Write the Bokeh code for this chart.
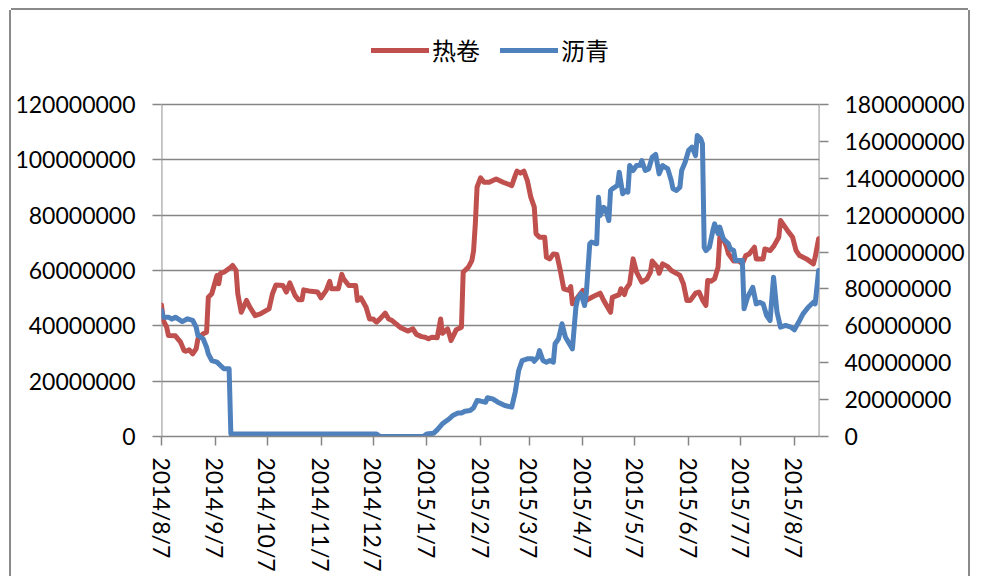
import pandas as pd
from bokeh.plotting import figure
from bokeh.models import (Range1d, LinearAxis, FixedTicker, NumeralTickFormatter,
                          Legend, LegendItem, ColumnDataSource)
from bokeh.embed import file_html
from bokeh.resources import INLINE

START = "2014-08-07"

# 热卷 (left axis) : day offset from START, value in millions
hr_day = [0, 1, 3, 4, 8, 11, 13, 14, 16, 18, 20, 21, 22, 24, 26, 27, 29, 32, 33, 34, 36, 40, 41, 43, 44, 46, 49, 51, 54, 57,
          62, 64, 66, 70, 72, 74, 77, 79, 81, 82, 85, 90, 92, 95, 97, 98, 102, 104, 105, 108, 112, 113, 115, 118, 120, 122, 124, 126, 129, 131,
          133, 138, 142, 145, 147, 150, 152, 154, 156, 159, 161, 162, 165, 166, 167, 169, 170, 173, 174, 175, 177, 179, 180, 181, 182, 184, 186, 189, 193, 197,
          202, 204, 205, 207, 209, 211, 213, 215, 216, 218, 221, 222, 224, 226, 228, 230, 232, 235, 236, 237, 240, 243, 245, 249, 253, 255, 259, 260, 264, 265,
          267, 268, 270, 272, 274, 277, 280, 282, 283, 286, 287, 289, 292, 294, 298, 299, 301, 303, 305, 308, 310, 312, 314, 315, 317, 319, 321, 322, 324, 326,
          327, 330, 333, 335, 337, 339, 342, 343, 345, 347, 348, 351, 353, 356, 357, 359, 361, 364, 366, 368, 372, 376, 377, 379]
hr_val = [47.5, 42.0, 39.5, 36.5, 36.4, 34.1, 31.1, 30.8, 31.3, 29.9, 31.7, 35.3, 35.9, 37.1, 37.7, 50.3, 51.6, 58.2, 55.2, 59.0, 59.4, 61.2, 61.8, 60.0, 51.6, 44.9, 49.2, 46.7, 43.7, 44.3,
          46.1, 51.6, 54.8, 54.6, 52.2, 55.5, 51.0, 49.4, 49.4, 53.0, 52.6, 52.2, 50.1, 52.8, 56.1, 53.4, 53.4, 58.6, 57.0, 54.6, 54.6, 49.2, 50.1, 46.7, 42.5, 42.5, 41.3, 42.5, 44.6, 42.5,
          41.9, 39.3, 38.1, 38.9, 36.9, 36.1, 35.9, 35.3, 35.9, 35.7, 42.5, 37.3, 38.9, 36.9, 34.7, 37.3, 38.6, 39.5, 59.4, 60.0, 61.2, 63.6, 67.2, 76.9, 90.1, 93.5, 91.9, 91.9, 93.1, 91.9,
          90.7, 94.3, 95.9, 95.2, 95.9, 92.5, 86.5, 82.9, 73.3, 72.0, 72.0, 64.8, 64.2, 66.0, 65.8, 60.0, 53.4, 52.8, 54.2, 48.0, 50.3, 52.8, 49.2, 50.6, 51.8, 49.2, 44.9, 50.3, 51.3, 53.4,
          51.3, 53.4, 55.2, 64.2, 59.4, 55.8, 57.0, 59.4, 63.4, 61.2, 59.0, 62.4, 61.4, 60.0, 58.6, 58.2, 55.2, 49.2, 49.2, 51.8, 52.2, 49.4, 47.4, 56.4, 56.1, 57.0, 61.2, 72.0, 71.5, 68.4,
          66.0, 63.4, 63.4, 62.4, 65.4, 66.0, 68.4, 64.2, 64.2, 64.2, 67.8, 67.2, 68.7, 72.0, 78.1, 76.3, 74.5, 72.0, 67.2, 65.4, 64.2, 62.4, 64.8, 71.5]

# 沥青 (right axis) : day offset from START, value in millions
lq_day = [0, 1, 4, 6, 8, 12, 15, 18, 20, 21, 24, 26, 27, 29, 32, 34, 36, 39, 40, 124, 126, 151, 153, 157, 159, 162, 166, 168, 171, 173,
          175, 178, 180, 182, 184, 187, 188, 191, 194, 198, 202, 204, 206, 208, 211, 214, 215, 217, 218, 220, 222, 224, 226, 227, 229, 231, 233, 237, 239, 240,
          242, 244, 245, 247, 248, 251, 252, 253, 255, 256, 258, 259, 260, 263, 264, 266, 268, 269, 270, 272, 274, 276, 277, 279, 281, 283, 285, 287, 289, 292,
          294, 295, 297, 299, 300, 302, 304, 306, 308, 309, 311, 312, 313, 314, 316, 318, 319, 321, 322, 324, 327, 328, 330, 331, 335, 336, 338, 341, 343, 345,
          347, 349, 351, 353, 355, 357, 360, 363, 365, 368, 370, 373, 376, 377, 379]
lq_val = [68.3, 64.7, 64.7, 63.6, 64.7, 62.3, 63.8, 62.9, 59.3, 54.8, 53.0, 48.4, 44.8, 41.2, 40.3, 38.5, 36.7, 36.7, 1.4, 1.4, 0.0, 0.0, 1.4, 1.8, 3.6, 6.9, 9.6, 11.4, 12.7, 12.7,
          13.7, 14.1, 15.6, 19.5, 19.2, 18.6, 21.0, 20.4, 18.6, 16.8, 15.9, 24.0, 35.8, 41.2, 42.1, 42.1, 40.8, 43.0, 46.6, 41.2, 40.3, 41.2, 40.3, 50.3, 53.0, 61.1, 53.8, 47.5, 70.1, 74.6,
          77.4, 71.0, 77.4, 104.5, 105.4, 104.5, 129.7, 119.8, 124.3, 123.4, 117.1, 133.4, 134.3, 136.1, 143.3, 131.6, 133.4, 132.5, 146.9, 144.2, 146.9, 147.0, 149.6, 144.2, 145.1, 151.4, 152.9, 142.4, 146.9, 145.1,
          138.8, 134.3, 133.4, 135.2, 144.2, 148.7, 155.1, 156.9, 152.3, 163.2, 161.4, 158.7, 102.6, 100.8, 102.6, 111.7, 115.3, 109.9, 113.5, 107.2, 104.5, 101.8, 100.8, 95.4, 95.4, 69.2, 75.5, 80.9, 71.9, 72.8,
          71.9, 65.6, 62.9, 86.4, 67.4, 59.3, 60.2, 59.3, 57.8, 62.9, 66.5, 70.1, 72.8, 71.9, 90.0]

tick_dates = ["2014-08-07", "2014-09-07", "2014-10-07", "2014-11-07", "2014-12-07", "2015-01-07", "2015-02-07",
              "2015-03-07", "2015-04-07", "2015-05-07", "2015-06-07", "2015-07-07", "2015-08-07"]
tick_labels = ["2014/8/7", "2014/9/7", "2014/10/7", "2014/11/7", "2014/12/7", "2015/1/7", "2015/2/7",
               "2015/3/7", "2015/4/7", "2015/5/7", "2015/6/7", "2015/7/7", "2015/8/7"]
left_ticks = [0, 20000000, 40000000, 60000000, 80000000, 100000000, 120000000]
right_ticks = [0, 20000000, 40000000, 60000000, 80000000, 100000000, 120000000, 140000000, 160000000, 180000000]
series_names = ["热卷", "沥青"]

start = pd.Timestamp(START)
end = start + pd.Timedelta(days=379.5)
hr_src = ColumnDataSource(dict(x=start + pd.to_timedelta(hr_day, unit="D"), y=[v * 1e6 for v in hr_val]))
lq_src = ColumnDataSource(dict(x=start + pd.to_timedelta(lq_day, unit="D"), y=[v * 1e6 for v in lq_val]))

RED = "#C0504D"
BLUE = "#4F81BD"
AX = "#868686"
FONT = "Lato"

# plot area is 332 px tall up to the top tick; the frame is extended 84 px upward to host the legend
HEADROOM = (332 + 84) / 332
left_top = left_ticks[-1] * HEADROOM
right_top = right_ticks[-1] * HEADROOM

p = figure(width=957, height=566, x_axis_type="datetime",
           x_range=Range1d(start, end),
           y_range=Range1d(0, left_top),
           output_backend="svg", toolbar_location=None,
           min_border_left=150, min_border_right=149, min_border_top=10, min_border_bottom=140)
p.margin = (10, 0, 0, 11)
p.styles = {"box-shadow": "0 -2px 0 0 #8a8a8a, -2px 0 0 0 #8a8a8a, 2px 0 0 0 #8a8a8a"}
p.outline_line_color = None
p.background_fill_color = "white"
p.border_fill_color = "white"

p.extra_y_ranges = {"r": Range1d(0, right_top)}

# y-axis lines, only up to the top tick
p.segment(x0=[start, end], y0=[0, 0], x1=[start, end], y1=[left_ticks[-1], left_ticks[-1]],
          line_color=AX, line_width=1.8)

r1 = p.line("x", "y", source=hr_src, line_color=RED, line_width=5, line_join="round", line_cap="round")
r2 = p.line("x", "y", source=lq_src, line_color=BLUE, line_width=5, line_join="round", line_cap="round",
            y_range_name="r")

# x axis
xax = p.xaxis[0]
tick_ms = [float(pd.Timestamp(d).value // 10**6) for d in tick_dates]
xax.ticker = FixedTicker(ticks=tick_ms)
xax.major_label_overrides = {t: l for t, l in zip(tick_ms, tick_labels)}
xax.major_label_orientation = "vertical"

# left axis
yax = p.yaxis[0]
yax.ticker = FixedTicker(ticks=left_ticks)
yax.formatter = NumeralTickFormatter(format="0")
yax.major_label_standoff = 17

# right axis
rax = LinearAxis(y_range_name="r", ticker=FixedTicker(ticks=right_ticks),
                 formatter=NumeralTickFormatter(format="0"))
p.add_layout(rax, "right")
rax.major_label_standoff = 16

for ax in [xax, yax, rax]:
    ax.axis_line_color = AX
    ax.axis_line_width = 1.5
    ax.major_tick_line_color = AX
    ax.major_tick_line_width = 1.5
    ax.major_tick_in = 0
    ax.major_tick_out = 9
    ax.minor_tick_line_color = None
    ax.major_label_text_font = FONT
    ax.major_label_text_font_size = "23px"
    ax.major_label_text_color = "black"
xax.major_label_standoff = 12
yax.axis_line_color = None
rax.axis_line_color = None

p.xgrid.grid_line_color = None
p.ygrid.ticker = yax.ticker
p.ygrid.grid_line_color = AX
p.ygrid.grid_line_width = 1.3

legend = Legend(items=[LegendItem(label=series_names[0], renderers=[r1]),
                       LegendItem(label=series_names[1], renderers=[r2])],
                orientation="horizontal", location="top_center")
legend.label_text_font = "Noto Sans CJK SC"
legend.label_text_font_size = "24px"
legend.label_text_color = "black"
legend.glyph_width = 58
legend.glyph_height = 24
legend.label_standoff = 3
legend.spacing = 20
legend.padding = 0
legend.margin = 12
legend.border_line_color = None
legend.background_fill_alpha = 0
p.add_layout(legend)

open("out.html", "w").write(file_html(p, INLINE))
